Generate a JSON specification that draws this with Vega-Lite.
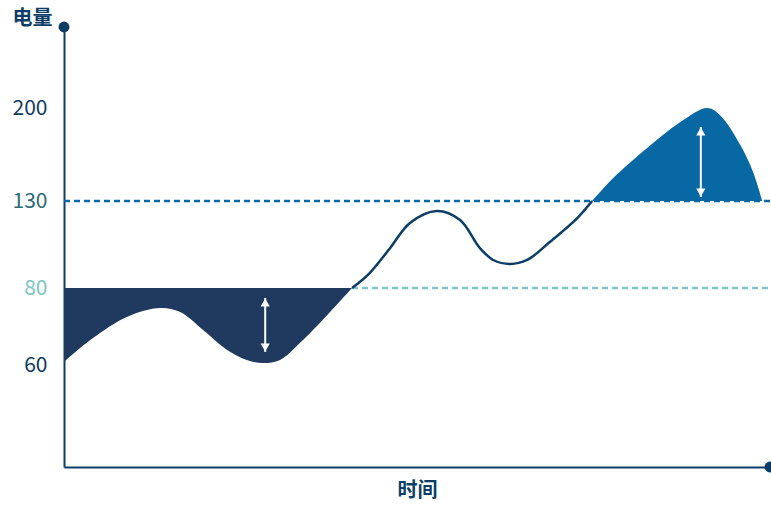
{
  "$schema": "https://vega.github.io/schema/vega-lite/v6.json",
  "width": 706,
  "height": 440,
  "autosize": {"type": "none"},
  "padding": {"left": 64, "top": 27, "right": 1, "bottom": 38},
  "background": "white",
  "config": {
    "view": {"stroke": null},
    "font": "Noto Sans CJK SC"
  },
  "datasets": {
    "curve": [
      {"t": 0, "v": 60.8},
      {"t": 4.1, "v": 67.0},
      {"t": 8.9, "v": 72.5},
      {"t": 13.6, "v": 74.8},
      {"t": 16.4, "v": 73.8},
      {"t": 19.7, "v": 69.1},
      {"t": 23.1, "v": 63.9},
      {"t": 25.9, "v": 61.3},
      {"t": 28.2, "v": 60.5},
      {"t": 30.6, "v": 61.3},
      {"t": 33.4, "v": 65.7},
      {"t": 37.3, "v": 73.0},
      {"t": 40.8, "v": 80},
      {"t": 43.3, "v": 88.6},
      {"t": 46.2, "v": 103},
      {"t": 49.0, "v": 117.4},
      {"t": 52.8, "v": 124.3},
      {"t": 56.1, "v": 119.1},
      {"t": 58.9, "v": 103},
      {"t": 60.8, "v": 96.1},
      {"t": 63.2, "v": 93.8},
      {"t": 65.6, "v": 96.1},
      {"t": 68.8, "v": 106.4},
      {"t": 72.7, "v": 120.2},
      {"t": 74.8, "v": 130},
      {"t": 77.8, "v": 147.3},
      {"t": 82.6, "v": 169.9},
      {"t": 87.3, "v": 189.4},
      {"t": 91.1, "v": 200},
      {"t": 92.9, "v": 194.7},
      {"t": 95.8, "v": 172.1},
      {"t": 97.6, "v": 151.8},
      {"t": 98.9, "v": 130}
    ],
    "arrows": [
      {"t": 28.5, "top": 77.4, "bottom": 63.4},
      {"t": 90.2, "top": 185.7, "bottom": 133.0}
    ],
    "ends": [
      {"t": 0, "v": 240},
      {"t": 100, "v": 40}
    ],
    "ref130": [{"level": 130, "from": 0, "to": 100}],
    "ref80": [{"level": 80, "from": 40.8, "to": 100}]
  },
  "encoding": {
    "x": {
      "field": "t", "type": "quantitative",
      "scale": {"domain": [0, 100], "nice": false, "zero": false},
      "axis": {
        "title": "时间", "labels": false, "ticks": false, "grid": false,
        "domainColor": "#0b3d66", "domainWidth": 2,
        "titleFontSize": 20, "titleFontWeight": "bold", "titleColor": "#0b3d66",
        "titleX": 353, "titleY": 23, "titleBaseline": "middle", "titleAlign": "center"
      }
    },
    "y": {
      "field": "v", "type": "quantitative",
      "scale": {
        "domain": [40, 60, 80, 130, 200, 240],
        "range": [440, 338, 261, 174, 81, 0],
        "nice": false, "zero": false, "clamp": false
      },
      "axis": {
        "title": "电量", "values": [60, 80, 130, 200], "ticks": false, "grid": false,
        "domainColor": "#0b3d66", "domainWidth": 2,
        "labelFontSize": 21, "labelPadding": 17,
        "labelColor": {"expr": "datum.value == 80 ? '#7cc6c4' : datum.value == 130 ? '#2b6a78' : '#0e3b62'"},
        "titleAngle": 0, "titleFontSize": 20, "titleFontWeight": "bold", "titleColor": "#0b3d66",
        "titleX": -32, "titleY": -9, "titleAlign": "center", "titleBaseline": "middle"
      }
    }
  },
  "layer": [
    {
      "data": {"name": "ref130"},
      "mark": {"type": "rule", "color": "#0a68a4", "strokeWidth": 2.5, "strokeDash": [6, 4]},
      "encoding": {
        "x": {"field": "from", "type": "quantitative"},
        "x2": {"field": "to"},
        "y": {"field": "level", "type": "quantitative"}
      }
    },
    {
      "data": {"name": "ref80"},
      "mark": {"type": "rule", "color": "#7cc6c4", "strokeWidth": 2.5, "strokeDash": [6, 4]},
      "encoding": {
        "x": {"field": "from", "type": "quantitative"},
        "x2": {"field": "to"},
        "y": {"field": "level", "type": "quantitative"}
      }
    },
    {
      "data": {"name": "curve"},
      "transform": [{"filter": "datum.t >= 40.8 && datum.t <= 74.8"}],
      "mark": {"type": "line", "color": "#0b3d66", "strokeWidth": 2.5, "interpolate": "catmull-rom"}
    },
    {
      "data": {"name": "curve"},
      "transform": [{"filter": "datum.t <= 40.8"}],
      "mark": {"type": "area", "color": "#1f3a5e", "interpolate": "catmull-rom", "opacity": 1},
      "encoding": {"y2": {"datum": 80}}
    },
    {
      "data": {"name": "curve"},
      "transform": [{"filter": "datum.t >= 74.8"}],
      "mark": {"type": "area", "color": "#0868a3", "interpolate": "catmull-rom", "opacity": 1},
      "encoding": {"y2": {"datum": 130}}
    },
    {
      "data": {"name": "arrows"},
      "mark": {"type": "rule", "color": "white", "strokeWidth": 2},
      "encoding": {
        "y": {"field": "top", "type": "quantitative"},
        "y2": {"field": "bottom"}
      }
    },
    {
      "data": {"name": "arrows"},
      "mark": {"type": "point", "shape": "triangle-up", "filled": true, "color": "white", "opacity": 1, "size": 85, "yOffset": 4.5},
      "encoding": {"y": {"field": "top", "type": "quantitative"}}
    },
    {
      "data": {"name": "arrows"},
      "mark": {"type": "point", "shape": "triangle-down", "filled": true, "color": "white", "opacity": 1, "size": 85, "yOffset": -4.5},
      "encoding": {"y": {"field": "bottom", "type": "quantitative"}}
    },
    {
      "data": {"name": "ends"},
      "mark": {"type": "point", "shape": "circle", "filled": true, "color": "#0b3d66", "opacity": 1, "size": 120, "clip": false}
    }
  ]
}
